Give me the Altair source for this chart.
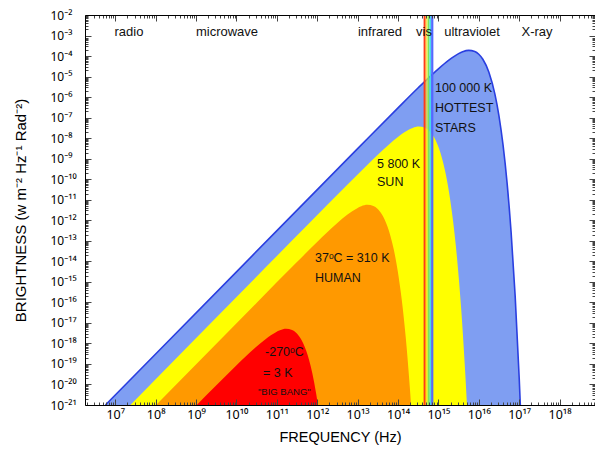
import altair as alt
import pandas as pd

# ---- curves (log10 frequency in Hz, log10 brightness) ----
blue_logf = [6.756, 10.0, 13.0, 14.0, 14.5, 14.75, 15.0, 15.25, 15.5, 15.6, 15.75, 15.9,
             16.0, 16.1, 16.25, 16.4, 16.5, 16.6, 16.7, 16.8, 16.9, 17.0, 17.028]
blue_logb = [-21.0, -14.512, -8.512, -6.523, -5.546, -5.072, -4.621, -4.211, -3.883, -3.791,
             -3.723, -3.777, -3.912, -4.154, -4.787, -5.866, -6.922, -8.328, -10.177,
             -12.581, -15.686, -19.673, -21.0]

yellow_logf = [7.374, 11.763, 12.763, 13.263, 13.513, 13.763, 14.013, 14.263, 14.363, 14.513,
               14.663, 14.763, 14.863, 15.013, 15.163, 15.263, 15.363, 15.463, 15.563, 15.663, 15.707]
yellow_logb = [-21.0, -12.222, -10.232, -9.255, -8.782, -8.330, -7.920, -7.592, -7.501, -7.433,
               -7.487, -7.621, -7.864, -8.497, -9.576, -10.632, -12.038, -13.886, -16.291,
               -19.396, -21.0]

orange_logf = [8.010, 10.491, 11.491, 11.991, 12.241, 12.491, 12.741, 12.991, 13.091, 13.241,
               13.391, 13.491, 13.591, 13.741, 13.891, 13.991, 14.091, 14.191, 14.291, 14.323]
orange_logb = [-21.0, -16.038, -14.049, -13.072, -12.598, -12.147, -11.737, -11.409, -11.317,
               -11.249, -11.303, -11.438, -11.680, -12.313, -13.392, -14.448, -15.854, -17.703,
               -20.107, -21.0]

red_logf = [9.017, 9.477, 9.977, 10.227, 10.477, 10.727, 10.977, 11.077, 11.227, 11.377,
            11.477, 11.577, 11.727, 11.877, 11.977, 12.017]
red_logb = [-21.0, -20.091, -19.114, -18.641, -18.189, -17.779, -17.451, -17.360, -17.291,
            -17.346, -17.480, -17.722, -18.356, -19.435, -20.490, -21.0]

# visible band stripes (Hz)
vis_lo = [4.3e14, 4.8e14, 5.1e14, 5.4e14, 6.0e14, 6.6e14]
vis_hi = [4.8e14, 5.1e14, 5.4e14, 6.0e14, 6.6e14, 7.5e14]
vis_colors = ["#ff3a1a", "#ffa000", "#ffff50", "#7be35a", "#49d8e8", "#5468ff"]

# region names along the top
region_names = ["radio", "microwave", "infrared", "vis", "ultraviolet", "X-ray"]
region_logf = [7.339, 9.766, 13.554, 14.643, 15.831, 17.441]
region_logb = [-2.83, -2.83, -2.83, -2.83, -2.83, -2.83]

# curve annotations (left aligned)
label_text = ["100 000 K", "HOTTEST", "STARS", "5 800 K", "SUN",
              "37ᵒC = 310 K", "HUMAN", "-270ᵒC", "= 3 K"]
label_logf = [14.915, 14.915, 14.915, 13.480, 13.480, 11.944, 11.944, 10.707, 10.657]
label_logb = [-5.556, -6.530, -7.504, -9.259, -10.136, -13.839, -14.813, -18.418, -19.441]

bang_text = ['"BIG BANG"']
bang_logf = [10.533]
bang_logb = [-20.367]

X_LO, X_HI = 10 ** 6.25, 10 ** 18.877
x_major = [10.0 ** n for n in range(7, 19)]
y_major = [10.0 ** n for n in range(-21, -1)]
x_minor = [k * 10.0 ** n for n in range(6, 19) for k in range(2, 10) if X_LO <= k * 10.0 ** n <= X_HI]
y_minor = [k * 10.0 ** n for n in range(-21, -2) for k in range(2, 10)]

FONT = "Liberation Sans"
TICKFONT = "Noto Sans"
BASE = 1e-21
W, H = 510, 390


def curve_df(lf, lb):
    return pd.DataFrame({"f": [10 ** u for u in lf], "b": [10 ** v for v in lb], "base": BASE})


def text_df(t, lf, lb):
    return pd.DataFrame({"t": t, "f": [10 ** u for u in lf], "b": [10 ** v for v in lb]})


xs = alt.Scale(type="log", domain=[X_LO, X_HI], nice=False)
ys = alt.Scale(type="log", domain=[1e-21, 1e-2], nice=False)

D = "['⁰','¹','²','³','⁴','⁵','⁶','⁷','⁸','⁹']"
E = "round(log(datum.value)/LN10)"
A = f"abs({E})"
sup_expr = f"'10' + ({E} < 0 ? '⁻' : '') + ({A} >= 10 ? {D}[floor({A}/10)] : '') + {D}[{A} % 10]"

common = dict(ticks=False, domain=True, domainColor="black", domainWidth=1, grid=True,
              gridColor="#444444", gridWidth=1, gridOpacity=1, zindex=1)

x_major_axis = alt.Axis(orient="bottom", values=x_major, labelExpr=sup_expr,
                        title="FREQUENCY (Hz)", gridDash=[6, H - 12, 6, 1000],
                        labelFont=TICKFONT, labelFontSize=12.5, labelColor="black", labelPadding=3,
                        labelOverlap=False, labelFlush=False,
                        titleFont=FONT, titleFontSize=14.5, titleFontWeight="normal",
                        titleColor="black", titlePadding=10, **common)
x_minor_axis = alt.Axis(orient="top", values=x_minor, labels=False, title=None,
                        gridDash=[3, H - 6, 3, 1000], **common)
y_major_axis = alt.Axis(orient="left", values=y_major, labelExpr=sup_expr,
                        title="BRIGHTNESS (w m⁻² Hz⁻¹ Rad⁻²)", gridDash=[6, W - 12, 6, 1000],
                        labelFont=TICKFONT, labelFontSize=12, labelColor="black",
                        labelAlign="left", labelPadding=35,
                        labelOverlap=False, labelFlush=False,
                        titleFont=FONT, titleFontSize=15, titleFontWeight="normal",
                        titleColor="black", titlePadding=22, **common)
y_minor_axis = alt.Axis(orient="right", values=y_minor, labels=False, title=None,
                        gridDash=[3, W - 6, 3, 1000], **common)


def area(df, color, xa=None, ya=None):
    return alt.Chart(df).mark_area(color=color, interpolate="monotone").encode(
        x=alt.X("f:Q", scale=xs, axis=xa),
        y=alt.Y("b:Q", scale=ys, axis=ya),
        y2="base:Q",
    )


blue_area = area(curve_df(blue_logf, blue_logb), "#7f9ef2", x_major_axis, y_major_axis)
yellow_area = area(curve_df(yellow_logf, yellow_logb), "#ffff00", x_minor_axis, y_minor_axis)
orange_area = area(curve_df(orange_logf, orange_logb), "#ff9900")
red_area = area(curve_df(red_logf, red_logb), "#ff0000")

blue_line = alt.Chart(curve_df(blue_logf, blue_logb)).mark_line(
    color="#2a3fe0", strokeWidth=1.6, interpolate="monotone").encode(
    x=alt.X("f:Q", scale=xs, axis=None),
    y=alt.Y("b:Q", scale=ys, axis=None),
)

band_df = pd.DataFrame({"lo": vis_lo, "hi": vis_hi, "c": vis_colors, "top": 1e-2, "bot": BASE})
band = alt.Chart(band_df).mark_rect().encode(
    x=alt.X("lo:Q", scale=xs, axis=None),
    x2="hi:Q",
    y=alt.Y("top:Q", scale=ys, axis=None),
    y2="bot:Q",
    color=alt.Color("c:N", scale=None),
)


def texts(df, size, align):
    return alt.Chart(df).mark_text(font=FONT, fontSize=size, align=align, baseline="middle",
                                   color="#111111").encode(
        x=alt.X("f:Q", scale=xs, axis=None),
        y=alt.Y("b:Q", scale=ys, axis=None),
        text="t:N",
    )


region_layer = texts(text_df(region_names, region_logf, region_logb), 13, "center")
label_layer = texts(text_df(label_text, label_logf, label_logb), 12.5, "left")
bang_layer = texts(text_df(bang_text, bang_logf, bang_logb), 9.5, "left")

chart = alt.layer(
    blue_area, yellow_area, orange_area, red_area, blue_line, band,
    region_layer, label_layer, bang_layer,
).resolve_axis(x="independent", y="independent").properties(
    width=W, height=H,
    autosize=alt.AutoSizeParams(type="none"),
    padding={"left": 77, "top": 7, "right": 0, "bottom": 40},
    background="white",
).configure_view(stroke=None)

chart.save("out.html", embed_options={"renderer": "svg", "actions": False})
